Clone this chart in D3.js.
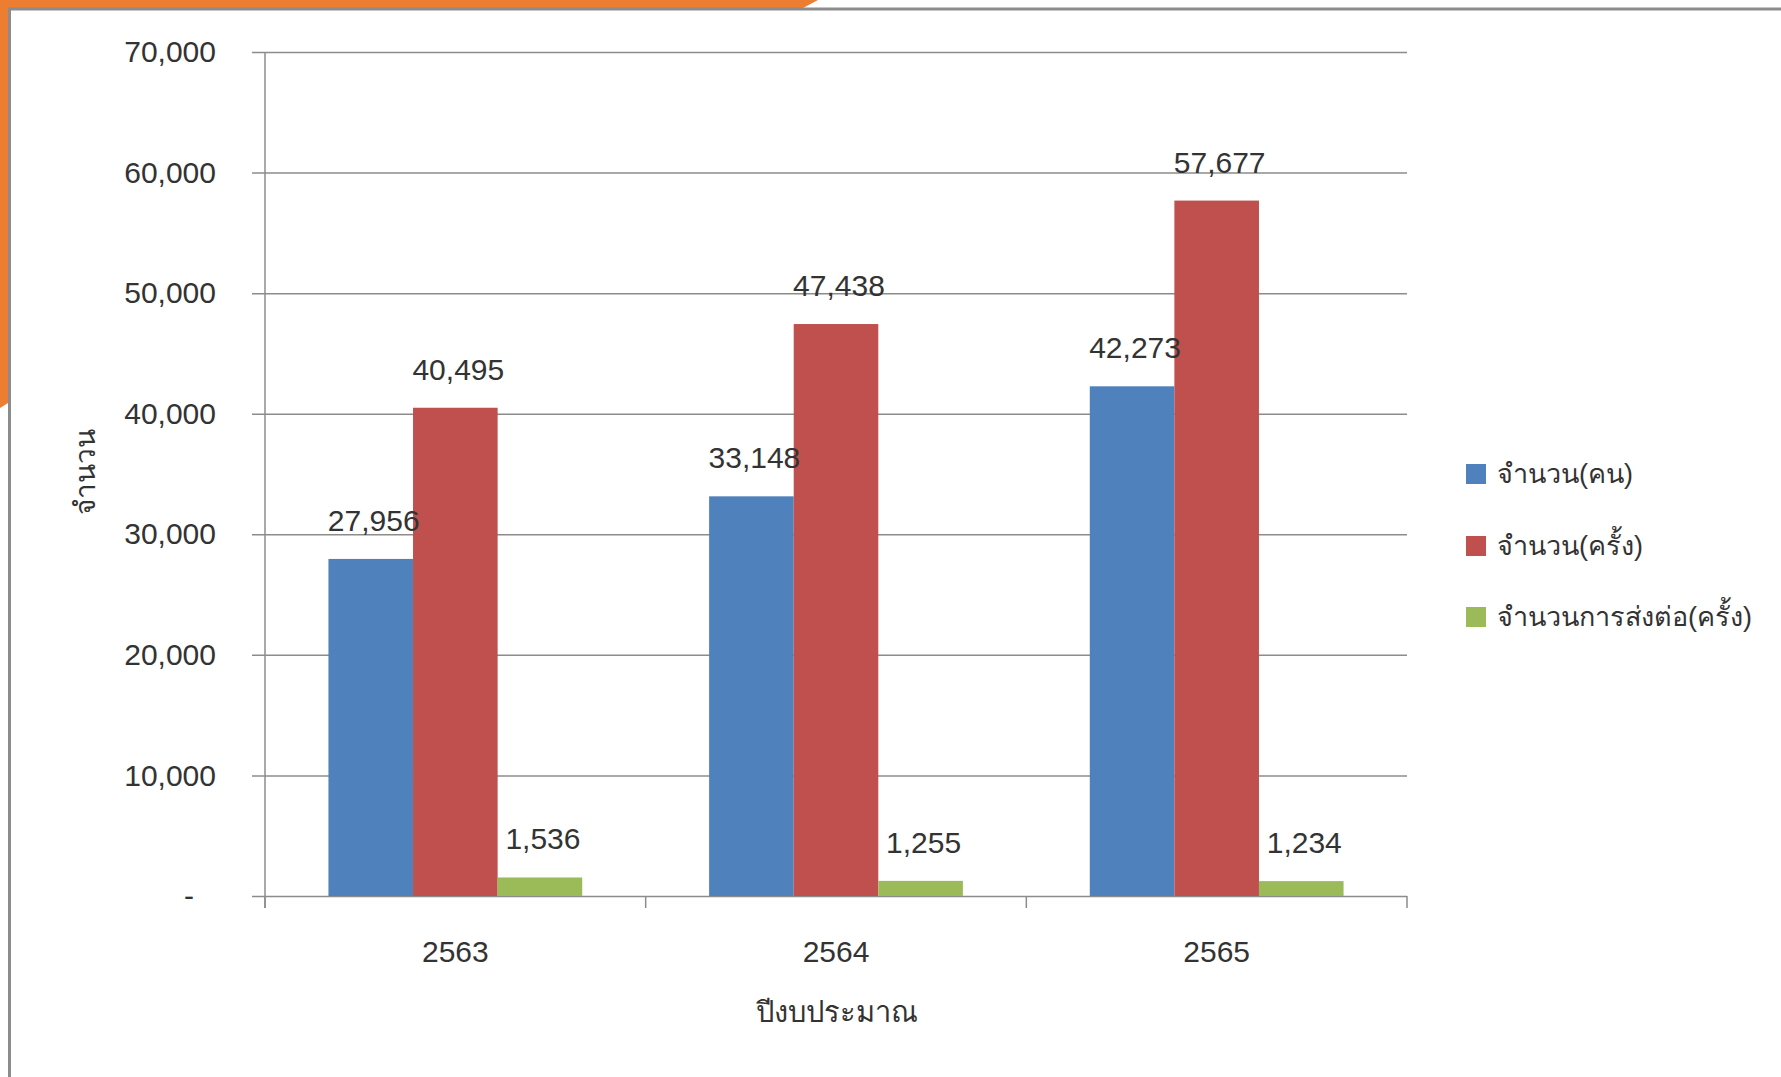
<!DOCTYPE html>
<html>
<head>
<meta charset="utf-8">
<script src="https://cdn.jsdelivr.net/npm/d3@7"></script>
<style>
  body { margin: 0; background: #fff; }
  text { font-family: "Liberation Sans", "Noto Sans", "DejaVu Sans", sans-serif; fill: #333; }
</style>
</head>
<body>
<div id="chart"></div>
<script>
const years = ["2563", "2564", "2565"];
const seriesNames = ["จำนวน(คน)", "จำนวน(ครั้ง)", "จำนวนการส่งต่อ(ครั้ง)"];
const seriesColors = ["#4F81BD", "#C0504D", "#9BBB59"];
const persons = [27956, 33148, 42273];
const visits = [40495, 47438, 57677];
const referrals = [1536, 1255, 1234];
const yTicks = [0, 10000, 20000, 30000, 40000, 50000, 60000, 70000];

const W = 1781, H = 1077;
const plot = { left: 265, right: 1407, top: 52, bottom: 896 };

const svg = d3.select("#chart")
  .append("svg")
  .attr("width", W)
  .attr("height", H);

// frame decoration (orange corner + gray border)
svg.append("polygon")
  .attr("points", "0,0 818,0 803,8 8,8 8,403 0,408")
  .attr("fill", "#ED7D31");
svg.append("line")
  .attr("x1", 8).attr("x2", W).attr("y1", 9).attr("y2", 9)
  .attr("stroke", "#8c8c8c").attr("stroke-width", 3);
svg.append("line")
  .attr("x1", 9.5).attr("x2", 9.5).attr("y1", 8).attr("y2", H)
  .attr("stroke", "#8c8c8c").attr("stroke-width", 3);

const data = years.map((yr, i) => ({
  year: yr,
  values: [persons[i], visits[i], referrals[i]]
}));

const x0 = d3.scaleBand()
  .domain(years)
  .range([plot.left, plot.right])
  .padding(0);

const x1 = d3.scaleBand()
  .domain(d3.range(seriesNames.length))
  .range([0, x0.bandwidth()])
  .paddingInner(0)
  .paddingOuter(0.75);

const y = d3.scaleLinear()
  .domain([0, 70000])
  .range([plot.bottom, plot.top]);

// y axis with gridlines
const yAxis = svg.append("g")
  .attr("transform", `translate(${plot.left},0)`)
  .call(d3.axisLeft(y)
    .tickValues(yTicks)
    .tickSize(0)
    .tickPadding(49)
    .tickFormat(d => d === 0 ? "-" : d3.format(",")(d)));

yAxis.select(".domain").remove();
yAxis.selectAll(".tick line")
  .attr("x1", -13)
  .attr("x2", plot.right - plot.left)
  .attr("stroke", "#8c8c8c")
  .attr("stroke-width", 1.5);
yAxis.selectAll(".tick text")
  .attr("font-size", 30)
  .attr("font-family", null)
  .attr("fill", "#333")
  .attr("dx", d => d === 0 ? -22 : 0);

// vertical axis line
svg.append("line")
  .attr("x1", plot.left).attr("x2", plot.left)
  .attr("y1", plot.top).attr("y2", plot.bottom + 12)
  .attr("stroke", "#8c8c8c").attr("stroke-width", 1.5);

// category boundary ticks
svg.selectAll(".xtick")
  .data(years.map(d => x0(d)).concat([plot.right]))
  .enter()
  .append("line")
  .attr("class", "xtick")
  .attr("x1", d => d).attr("x2", d => d)
  .attr("y1", plot.bottom).attr("y2", plot.bottom + 12)
  .attr("stroke", "#8c8c8c").attr("stroke-width", 1.5);

// category labels
svg.selectAll(".xlabel")
  .data(years)
  .enter()
  .append("text")
  .attr("class", "xlabel")
  .attr("x", d => x0(d) + x0.bandwidth() / 2)
  .attr("y", 951)
  .attr("dy", "0.35em")
  .attr("text-anchor", "middle")
  .attr("font-size", 30)
  .text(d => d);

// bars
const groups = svg.selectAll(".group")
  .data(data)
  .enter()
  .append("g")
  .attr("class", "group")
  .attr("transform", d => `translate(${x0(d.year)},0)`);

groups.selectAll("rect")
  .data(d => d.values.map((v, i) => ({ i, v })))
  .enter()
  .append("rect")
  .attr("x", d => x1(d.i))
  .attr("y", d => y(d.v))
  .attr("width", x1.bandwidth())
  .attr("height", d => plot.bottom - y(d.v))
  .attr("fill", d => seriesColors[d.i]);

// data labels
groups.selectAll(".vlabel")
  .data(d => d.values.map((v, i) => ({ i, v })))
  .enter()
  .append("text")
  .attr("class", "vlabel")
  .attr("x", d => x1(d.i) + x1.bandwidth() / 2 + 3)
  .attr("y", d => y(d.v) - 28)
  .attr("text-anchor", "middle")
  .attr("font-size", 30)
  .text(d => d3.format(",")(d.v));

// axis titles
svg.append("text")
  .attr("x", 837)
  .attr("y", 1012)
  .attr("dy", "0.35em")
  .attr("text-anchor", "middle")
  .attr("font-size", 29)
  .text("ปีงบประมาณ");

svg.append("text")
  .attr("transform", "translate(85,472) rotate(-90)")
  .attr("dy", "0.35em")
  .attr("text-anchor", "middle")
  .attr("font-size", 28)
  .text("จำนวน");

// legend
const legendY = [474, 546, 617];
const legend = svg.selectAll(".legend")
  .data(seriesNames)
  .enter()
  .append("g")
  .attr("class", "legend")
  .attr("transform", (d, i) => `translate(1466,${legendY[i]})`);

legend.append("rect")
  .attr("x", 0).attr("y", -10)
  .attr("width", 20).attr("height", 20)
  .attr("fill", (d, i) => seriesColors[i]);

legend.append("text")
  .attr("x", 31)
  .attr("dy", "0.35em")
  .attr("font-size", 27)
  .text(d => d);
</script>
</body>
</html>
